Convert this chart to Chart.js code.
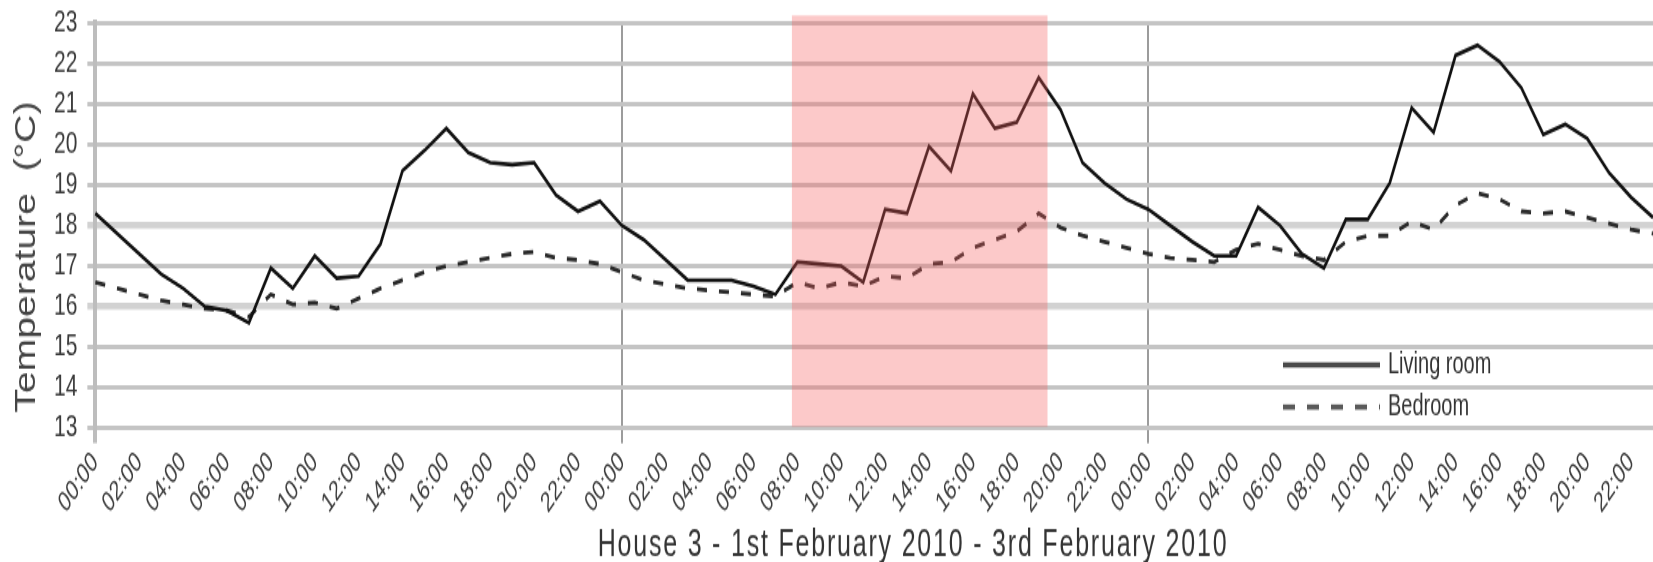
<!DOCTYPE html>
<html>
<head>
<meta charset="utf-8">
<title>House 3 temperatures</title>
<script src="https://cdn.jsdelivr.net/npm/chart.js@4.4.1/dist/chart.umd.min.js"></script>
<style>
  html, body { margin: 0; padding: 0; background: #fff; }
  body { width: 1653px; height: 562px; }
  /* the source picture is stretched vertically, so the chart is drawn flatter and scaled up */
  #wrap { width: 1653px; height: 375px; transform: scaleY(1.49867); transform-origin: 0 0; }
  #tempChart { display: block; }
</style>
</head>
<body>
<div id="wrap"><canvas id="tempChart" width="1653" height="375"></canvas></div>
<script>
// hourly readings, 1st - 3rd February 2010
const dayHours = ['00:00','01:00','02:00','03:00','04:00','05:00','06:00','07:00',
                  '08:00','09:00','10:00','11:00','12:00','13:00','14:00','15:00',
                  '16:00','17:00','18:00','19:00','20:00','21:00','22:00','23:00'];
const timeLabels = dayHours.concat(dayHours, dayHours);

const livingRoom = [
  18.3, 17.8, 17.3, 16.8, 16.45, 16.0, 15.9, 15.6, 16.95, 16.45, 17.25, 16.7,
  16.75, 17.55, 19.35, 19.85, 20.4, 19.8, 19.55, 19.5, 19.55, 18.75, 18.35, 18.6,
  18.0, 17.65, 17.15, 16.65, 16.65, 16.65, 16.5, 16.3, 17.1, 17.05, 17.0, 16.6,
  18.4, 18.3, 19.95, 19.35, 21.25, 20.4, 20.55, 21.65, 20.85, 19.55, 19.05, 18.65,
  18.4, 18.0, 17.6, 17.25, 17.25, 18.45, 18.0, 17.3, 16.95, 18.15, 18.15, 19.05,
  20.9, 20.3, 22.2, 22.45, 22.05, 21.4, 20.25, 20.5, 20.15, 19.3, 18.7, 18.2
];
const bedroom = [
  16.6, 16.45, 16.3, 16.15, 16.05, 15.95, 15.9, 15.75, 16.3, 16.05, 16.1, 15.95,
  16.2, 16.45, 16.65, 16.85, 17.0, 17.1, 17.2, 17.3, 17.35, 17.2, 17.15, 17.05,
  16.85, 16.65, 16.55, 16.45, 16.4, 16.35, 16.3, 16.25, 16.6, 16.45, 16.6, 16.5,
  16.75, 16.7, 17.05, 17.1, 17.45, 17.65, 17.85, 18.3, 17.95, 17.75, 17.6, 17.45,
  17.3, 17.2, 17.15, 17.1, 17.4, 17.55, 17.4, 17.25, 17.15, 17.6, 17.75, 17.75,
  18.1, 17.9, 18.5, 18.8, 18.65, 18.35, 18.3, 18.35, 18.2, 18.05, 17.9, 17.8
];

const yMin = 13;
const yMax = 23;
// shaded period, in hour positions along the x axis
const highlight = [31.75, 43.4];

const xTitle = 'House 3 - 1st February 2010 - 3rd February 2010';
const yTitle = 'Temperature  (°C)';
const FONT = "'Liberation Sans', Arial, sans-serif";

// pink band drawn over the lines, like the original
const highlightBox = {
  id: 'highlightBox',
  afterDatasetsDraw(chart) {
    const { ctx, chartArea, scales } = chart;
    const x0 = scales.x.getPixelForValue(highlight[0]);
    const x1 = scales.x.getPixelForValue(highlight[1]);
    ctx.save();
    ctx.fillStyle = 'rgba(245, 90, 90, 0.33)';
    ctx.fillRect(x0, chartArea.top - 5, x1 - x0, chartArea.bottom - chartArea.top + 4);
    ctx.restore();
  }
};

// legend sits inside the plot, bottom right
const insideLegend = {
  id: 'insideLegend',
  afterDraw(chart) {
    const ctx = chart.ctx;
    const rows = [
      { ds: chart.data.datasets[0], y: 243.5, dash: [], color: '#4a4a4a' },
      { ds: chart.data.datasets[1], y: 271.6, dash: [12, 12], color: '#5a5a5a' }
    ];
    ctx.save();
    rows.forEach(r => {
      ctx.beginPath();
      ctx.setLineDash(r.dash);
      ctx.strokeStyle = r.color;
      ctx.lineWidth = 3.5;
      ctx.moveTo(1283, r.y);
      ctx.lineTo(1380, r.y);
      ctx.stroke();
      ctx.setLineDash([]);
      ctx.fillStyle = '#333';
      ctx.font = '20px ' + FONT;
      ctx.textAlign = 'left';
      ctx.textBaseline = 'middle';
      ctx.fillText(r.ds.label, 1388, r.y);
    });
    ctx.restore();
  }
};

// axis titles, placed where the original has them
const axisTitles = {
  id: 'axisTitles',
  afterDraw(chart) {
    const ctx = chart.ctx;
    ctx.save();
    ctx.fillStyle = '#333';
    ctx.font = '25px ' + FONT;
    ctx.textAlign = 'center';
    ctx.textBaseline = 'alphabetic';
    if ('letterSpacing' in ctx) ctx.letterSpacing = '1.8px';
    ctx.fillText(xTitle, 913, 371);
    if ('letterSpacing' in ctx) ctx.letterSpacing = '0px';

    ctx.translate(27, 171.5);
    ctx.rotate(-Math.PI / 2);
    ctx.scale(0.9, 1);
    ctx.fillStyle = '#444';
    ctx.font = '29px ' + FONT;
    ctx.textBaseline = 'middle';
    ctx.fillText(yTitle, 0, 0);
    ctx.restore();
  }
};

const isDayStart = ctx => ctx.tick && ctx.tick.value % 24 === 0;
const isWideLine = ctx => ctx.tick && (ctx.tick.value === 16 || ctx.tick.value === 18);

new Chart(document.getElementById('tempChart').getContext('2d'), {
  type: 'line',
  data: {
    labels: timeLabels,
    datasets: [
      {
        label: 'Living room',
        data: livingRoom,
        borderColor: '#111',
        borderWidth: 2.6,
        pointRadius: 0,
        tension: 0,
        fill: false
      },
      {
        label: 'Bedroom',
        data: bedroom,
        borderColor: '#2a2a2a',
        borderWidth: 2.8,
        borderDash: [10, 12],
        pointRadius: 0,
        tension: 0,
        fill: false
      }
    ]
  },
  options: {
    responsive: false,
    devicePixelRatio: 1,
    animation: false,
    layout: { padding: { left: 44, top: 15.3, right: 0, bottom: 26.3 } },
    plugins: {
      legend: { display: false },
      tooltip: { enabled: false }
    },
    scales: {
      x: {
        type: 'category',
        offset: false,
        border: { display: false },
        grid: {
          color: ctx => !isDayStart(ctx) ? 'rgba(0,0,0,0)' : (ctx.tick.value === 0 ? '#bdbdbd' : '#9c9c9c'),
          lineWidth: ctx => (ctx.tick && ctx.tick.value === 0) ? 4 : 2,
          tickLength: 10
        },
        ticks: {
          autoSkip: false,
          minRotation: 45,
          maxRotation: 45,
          padding: 3,
          color: '#3a3a3a',
          font: { family: FONT, size: 19, lineHeight: 1 },
          // every other hour is labelled; the rest stay blank
          callback: (v, i) => i % 2 === 0 ? timeLabels[i] : null
        }
      },
      y: {
        min: yMin,
        max: yMax,
        border: { color: '#bdbdbd', width: 4 },
        grid: {
          color: ctx => isWideLine(ctx) ? '#d2d2d2' : '#c4c4c4',
          lineWidth: ctx => isWideLine(ctx) ? 4.5 : 3,
          tickLength: 8
        },
        ticks: {
          stepSize: 1,
          padding: 10,
          color: '#3a3a3a',
          font: { family: FONT, size: 21, lineHeight: 0.4 }
        }
      }
    }
  },
  plugins: [highlightBox, insideLegend, axisTitles]
});
</script>
</body>
</html>
